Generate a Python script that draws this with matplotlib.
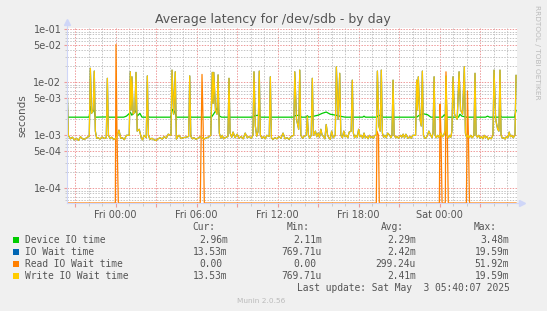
import numpy as np
import matplotlib.pyplot as plt
from matplotlib.patches import Rectangle

# hours relative to Fri 00:00, values in seconds
write_pts = [
    (-3.60, 1.10e-2), (-3.50, 1.00e-3), (-3.35, 8.6e-4), (-3.20, 9.2e-4), (-3.05, 8.2e-4),
    (-2.90, 8.8e-4), (-2.75, 8.0e-4), (-2.60, 9.4e-4), (-2.45, 8.6e-4), (-2.30, 8.4e-4),
    (-2.15, 9.0e-4), (-1.95, 9.6e-4), (-1.87, 1.84e-2), (-1.78, 2.6e-3), (-1.66, 3.0e-3),
    (-1.58, 1.63e-2), (-1.50, 1.2e-3), (-1.40, 8.8e-4), (-1.30, 9.0e-4), (-1.15, 8.5e-4),
    (-1.00, 9.3e-4), (-0.85, 8.7e-4), (-0.69, 9.0e-4), (-0.61, 1.19e-2), (-0.53, 1.0e-3),
    (-0.40, 8.6e-4), (-0.30, 9.2e-4), (-0.15, 8.4e-4), (0.00, 8.6e-4), (0.12, 9.6e-4),
    (0.25, 1.25e-3), (0.38, 8.8e-4), (0.50, 9.0e-4), (0.65, 8.3e-4), (0.80, 1.0e-3),
    (1.01, 1.0e-3), (1.09, 1.58e-2), (1.15, 3.0e-3), (1.21, 1.27e-2), (1.30, 2.5e-3),
    (1.43, 2.8e-3), (1.51, 1.54e-2), (1.60, 1.2e-3), (1.75, 1.3e-3), (1.90, 9.0e-4),
    (2.00, 8.2e-4), (2.10, 1.0e-3), (2.27, 9.0e-4), (2.35, 1.32e-2), (2.43, 1.0e-3),
    (2.55, 8.4e-4), (2.70, 8.8e-4), (2.85, 8.2e-4), (3.00, 8.0e-4), (3.15, 8.6e-4),
    (3.30, 9.0e-4), (3.45, 8.5e-4), (3.60, 9.5e-4), (3.75, 8.8e-4), (3.90, 1.05e-3),
    (4.10, 1.0e-3), (4.18, 1.70e-2), (4.30, 2.5e-3), (4.42, 1.58e-2), (4.50, 8.5e-4),
    (4.60, 9.4e-4), (4.70, 1.0e-3), (4.85, 8.7e-4), (5.00, 9.0e-4), (5.20, 9.2e-4),
    (5.41, 9.5e-4), (5.49, 1.32e-2), (5.57, 9.5e-4), (5.70, 8.6e-4), (5.80, 9.0e-4),
    (5.95, 8.4e-4), (6.10, 8.8e-4), (6.25, 9.4e-4), (6.40, 9.0e-4), (6.55, 8.5e-4),
    (6.70, 8.9e-4), (6.90, 9.3e-4), (7.05, 1.0e-3), (7.16, 1.54e-2), (7.22, 4.0e-3),
    (7.27, 1.54e-2), (7.40, 3.0e-3), (7.51, 2.5e-3), (7.59, 1.38e-2), (7.68, 1.1e-3),
    (7.80, 8.8e-4), (7.90, 1.0e-3), (8.00, 8.6e-4), (8.10, 9.0e-4), (8.32, 9.5e-4),
    (8.40, 1.19e-2), (8.48, 1.1e-3), (8.60, 9.2e-4), (8.70, 1.15e-3), (8.85, 9.0e-4),
    (9.00, 1.05e-3), (9.15, 8.8e-4), (9.30, 9.5e-4), (9.45, 8.6e-4), (9.60, 1.1e-3),
    (9.75, 9.0e-4), (9.90, 9.5e-4), (10.05, 8.8e-4), (10.17, 1.0e-3), (10.25, 1.58e-2),
    (10.35, 1.5e-3), (10.45, 9.6e-4), (10.56, 1.2e-3), (10.64, 1.63e-2), (10.72, 1.0e-3),
    (10.85, 8.8e-4), (10.95, 9.5e-4), (11.08, 8.6e-4), (11.20, 1.0e-3), (11.38, 9.5e-4),
    (11.46, 1.27e-2), (11.54, 9.0e-4), (11.65, 8.4e-4), (11.80, 9.0e-4), (11.95, 8.6e-4),
    (12.10, 9.5e-4), (12.25, 8.8e-4), (12.40, 1.1e-3), (12.55, 8.6e-4), (12.70, 9.0e-4),
    (12.85, 8.4e-4), (13.00, 9.5e-4), (13.19, 1.0e-3), (13.27, 1.58e-2), (13.40, 2.0e-3),
    (13.56, 1.3e-3), (13.64, 1.70e-2), (13.72, 1.0e-3), (13.85, 8.8e-4), (13.95, 9.5e-4),
    (14.12, 1.0e-3), (14.20, 2.3e-3), (14.28, 1.0e-3), (14.38, 8.8e-4), (14.49, 1.0e-3),
    (14.57, 1.19e-2), (14.65, 1.0e-3), (14.80, 1.2e-3), (14.90, 9.4e-4), (15.00, 1.1e-3),
    (15.10, 9.2e-4), (15.20, 1.3e-3), (15.30, 1.0e-3), (15.40, 9.5e-4), (15.50, 8.6e-4),
    (15.60, 1.6e-3), (15.70, 1.0e-3), (15.80, 9.0e-4), (15.90, 8.4e-4), (16.00, 1.2e-3),
    (16.12, 9.0e-4), (16.27, 1.0e-3), (16.35, 1.96e-2), (16.48, 2.0e-3), (16.60, 1.48e-2),
    (16.68, 1.0e-3), (16.80, 9.0e-4), (16.90, 1.2e-3), (17.00, 9.4e-4), (17.10, 1.0e-3),
    (17.20, 9.0e-4), (17.30, 1.15e-3), (17.45, 1.2e-3), (17.53, 1.10e-2), (17.61, 1.1e-3),
    (17.70, 9.0e-4), (17.80, 1.0e-3), (17.90, 9.2e-4), (18.00, 1.3e-3), (18.10, 9.4e-4),
    (18.20, 1.0e-3), (18.30, 8.8e-4), (18.40, 1.1e-3), (18.50, 9.0e-4), (18.60, 9.5e-4),
    (18.70, 8.6e-4), (18.80, 1.0e-3), (18.90, 9.0e-4), (19.00, 9.5e-4), (19.10, 8.8e-4),
    (19.20, 1.0e-3), (19.31, 1.0e-3), (19.39, 1.63e-2), (19.50, 1.5e-3), (19.60, 1.2e-3),
    (19.68, 1.70e-2), (19.76, 1.1e-3), (19.85, 9.2e-4), (19.95, 1.0e-3), (20.05, 9.0e-4),
    (20.15, 1.1e-3), (20.30, 1.0e-3), (20.40, 9.0e-4), (20.47, 1.0e-3), (20.55, 1.10e-2),
    (20.63, 1.0e-3), (20.75, 9.0e-4), (20.85, 9.5e-4), (20.95, 8.8e-4), (21.10, 1.0e-3),
    (21.20, 9.2e-4), (21.30, 1.05e-3), (21.40, 9.0e-4), (21.50, 1.05e-3), (21.65, 8.8e-4),
    (21.80, 9.5e-4), (21.90, 8.8e-4), (22.00, 1.0e-3), (22.22, 1.0e-3), (22.30, 1.10e-2),
    (22.36, 3.0e-3), (22.42, 1.27e-2), (22.55, 2.0e-3), (22.64, 1.5e-3), (22.72, 1.63e-2),
    (22.80, 1.0e-3), (22.90, 8.8e-4), (23.00, 9.0e-4), (23.10, 1.0e-3), (23.20, 1.2e-3),
    (23.35, 1.0e-3), (23.43, 9.0e-4), (23.51, 1.1e-3), (23.59, 1.27e-2), (23.67, 1.0e-3),
    (23.75, 9.0e-4), (23.85, 1.0e-3), (23.95, 9.2e-4), (24.10, 1.1e-3), (24.20, 9.4e-4),
    (24.30, 1.0e-3), (24.40, 1.2e-3), (24.47, 1.30e-2), (24.55, 1.0e-3), (24.65, 9.0e-4),
    (24.75, 1.0e-3), (24.83, 9.2e-4), (24.91, 1.2e-3), (24.99, 1.27e-2), (25.10, 2.5e-3),
    (25.30, 2.0e-3), (25.44, 1.58e-2), (25.55, 3.0e-3), (25.70, 2.5e-3), (25.83, 1.97e-2),
    (25.91, 1.1e-3), (26.00, 9.2e-4), (26.10, 1.0e-3), (26.20, 9.0e-4), (26.30, 1.0e-3),
    (26.42, 9.0e-4), (26.54, 1.0e-3), (26.62, 1.48e-2), (26.70, 1.0e-3), (26.80, 9.2e-4),
    (26.90, 1.0e-3), (27.00, 8.8e-4), (27.10, 9.5e-4), (27.20, 8.6e-4), (27.30, 1.0e-3),
    (27.40, 9.0e-4), (27.50, 9.5e-4), (27.60, 8.4e-4), (27.70, 9.0e-4), (27.82, 8.6e-4),
    (27.95, 1.0e-3), (28.03, 1.70e-2), (28.15, 2.0e-3), (28.30, 1.3e-3), (28.39, 1.2e-3),
    (28.47, 1.70e-2), (28.55, 1.0e-3), (28.65, 8.8e-4), (28.75, 9.0e-4), (28.85, 8.5e-4),
    (28.95, 9.5e-4), (29.05, 9.0e-4), (29.15, 1.15e-3), (29.25, 9.4e-4), (29.35, 1.0e-3),
    (29.45, 9.0e-4), (29.58, 1.0e-3), (29.66, 1.35e-2),
]

device_pts = [
    (-3.60, 2.20e-3), (-2.00, 2.20e-3), (-1.95, 2.30e-3), (-1.87, 3.50e-3), (-1.75, 2.80e-3),
    (-1.60, 3.00e-3), (-1.50, 2.20e-3), (-0.70, 2.22e-3), (-0.60, 2.35e-3), (-0.50, 2.20e-3),
    (0.60, 2.20e-3), (0.80, 2.30e-3), (1.10, 2.70e-3), (1.20, 2.40e-3), (1.50, 2.90e-3),
    (1.60, 2.30e-3), (1.80, 2.60e-3), (1.95, 2.20e-3), (2.30, 2.20e-3), (2.40, 2.28e-3),
    (2.50, 2.20e-3), (4.10, 2.20e-3), (4.20, 3.10e-3), (4.40, 2.70e-3), (4.50, 2.20e-3),
    (5.40, 2.20e-3), (5.50, 2.30e-3), (5.60, 2.20e-3), (7.10, 2.20e-3), (7.25, 2.50e-3),
    (7.55, 3.30e-3), (7.70, 2.30e-3), (7.85, 2.20e-3), (10.20, 2.20e-3), (10.30, 2.35e-3),
    (10.65, 2.40e-3), (10.75, 2.20e-3), (13.20, 2.20e-3), (13.30, 2.35e-3), (13.65, 2.40e-3),
    (13.75, 2.20e-3), (14.10, 2.20e-3), (14.20, 2.35e-3), (14.30, 2.20e-3), (14.70, 2.30e-3),
    (15.00, 2.40e-3), (15.30, 2.60e-3), (15.60, 2.75e-3), (15.90, 2.50e-3), (16.30, 2.40e-3),
    (16.60, 2.30e-3), (17.00, 2.20e-3), (18.30, 2.20e-3), (18.40, 2.30e-3), (18.50, 2.20e-3),
    (19.35, 2.20e-3), (19.45, 2.35e-3), (19.70, 2.40e-3), (19.80, 2.20e-3), (22.30, 2.20e-3),
    (22.50, 2.40e-3), (22.80, 2.55e-3), (23.10, 2.45e-3), (23.35, 2.20e-3), (24.20, 2.20e-3),
    (24.35, 2.45e-3), (24.50, 2.20e-3), (25.40, 2.20e-3), (25.50, 2.50e-3), (25.65, 2.30e-3),
    (26.00, 2.20e-3), (27.40, 2.20e-3), (27.55, 2.30e-3), (27.70, 2.20e-3), (28.40, 2.20e-3),
    (28.50, 2.35e-3), (28.60, 2.20e-3), (29.55, 2.20e-3), (29.66, 2.96e-3),
]

read_pts = [
    (-3.60, 0.0), (-0.02, 0.0), (0.03, 5.19e-2), (0.10, 1.2e-3), (0.20, 0.0),
    (6.27, 0.0), (6.40, 1.41e-2), (6.50, 1.0e-3), (6.57, 0.0),
    (19.31, 0.0), (19.36, 1.2e-3), (19.47, 1.0e-3), (19.53, 0.0),
    (23.98, 0.0), (24.03, 3.9e-3), (24.10, 1.0e-3), (24.18, 0.0),
    (24.42, 0.0), (24.47, 1.58e-2), (24.57, 1.0e-3), (24.64, 0.0),
    (25.98, 0.0), (26.06, 6.9e-3), (26.13, 1.0e-3), (26.21, 0.0),
    (29.66, 0.0),
]

series_names = ['Device IO time', 'IO Wait time', 'Read IO Wait time', 'Write IO Wait time']
series_colors = ['#00CC00', '#0066B3', '#FF8000', '#FFCC00']
cur_vals = ['2.96m', '13.53m', '0.00', '13.53m']
min_vals = ['2.11m', '769.71u', '0.00', '769.71u']
avg_vals = ['2.29m', '2.42m', '299.24u', '2.41m']
max_vals = ['3.48m', '19.59m', '51.92m', '19.59m']

x_ticks = [0, 6, 12, 18, 24]
x_labels = ['Fri 00:00', 'Fri 06:00', 'Fri 12:00', 'Fri 18:00', 'Sat 00:00']
y_ticks = [1e-1, 5e-2, 1e-2, 5e-3, 1e-3, 5e-4, 1e-4]
y_labels = ['1e-01', '5e-02', '1e-02', '5e-03', '1e-03', '5e-04', '1e-04']

W, H = 547, 311
YMIN, YMAX = 5.28e-5, 0.106
fig = plt.figure(figsize=(W / 100, H / 100), dpi=100, facecolor='#F0F0F0')
ax = fig.add_axes([67 / W, 1 - 203 / H, 450 / W, 175 / H])
ax.set_facecolor('white')

wh, wv = np.array(write_pts).T
dh, dv = np.array(device_pts).T
rh, rv = np.array(read_pts).T
rv_plot = np.where(rv > 0, rv, YMIN)  # zeros sit on the floor, as rrdtool draws them

ax.plot(dh, dv, color=series_colors[0], lw=0.9)
ax.plot(wh, wv, color=series_colors[1], lw=0.9)
ax.plot(rh, rv_plot, color=series_colors[2], lw=0.9)
ax.plot(wh, wv, color=series_colors[3], lw=0.9)

ax.set_yscale('log')
ax.set_xlim(-3.6, 29.73)
ax.set_ylim(YMIN, YMAX)

# grid
major_x = np.arange(-3, 30, 3)
ax.set_xticks(major_x)
ax.set_xticklabels([x_labels[x_ticks.index(t)] if t in x_ticks else '' for t in major_x])
ax.set_xticks(np.arange(-3, 30, 1), minor=True)
ax.set_yticks(y_ticks)
ax.set_yticklabels(y_labels)
minor_y = [m * 10.0 ** e for e in range(-5, 0) for m in (2, 3, 4, 6, 7, 8, 9)]
ax.set_yticks([v for v in minor_y if YMIN < v < YMAX], minor=True)
ax.yaxis.set_minor_formatter(plt.NullFormatter())
ax.set_axisbelow(True)
ax.grid(which='minor', color='#C4C4C4', lw=0.72, linestyle=(0, (1.4, 1.4)))
ax.grid(which='major', color='#EE9A9A', lw=0.72, linestyle=(0, (1.4, 1.4)))

ax.tick_params(which='both', labelsize=7, labelcolor='#555555', pad=2)
ax.tick_params(axis='x', which='major', length=3, color='#EE9A9A')
ax.tick_params(axis='x', which='minor', length=2, color='#C4C4C4')
ax.tick_params(axis='y', which='major', length=2, color='#EE9A9A')
ax.tick_params(axis='y', which='minor', length=1.5, color='#C4C4C4')

for s in ['top', 'right']:
    ax.spines[s].set_visible(False)
for s in ['left', 'bottom']:
    ax.spines[s].set_color('#CFD6F8')
    ax.spines[s].set_linewidth(0.8)
ax.plot([0, 0], [1, 1.03], color='#CFD6F8', lw=0.8, transform=ax.transAxes, clip_on=False)
ax.plot([1, 1.01], [0, 0], color='#CFD6F8', lw=0.8, transform=ax.transAxes, clip_on=False)
ax.plot([0], [1.035], marker='^', ms=4, color='#CFD6F8', transform=ax.transAxes, clip_on=False)
ax.plot([1.012], [0], marker='>', ms=4, color='#CFD6F8', transform=ax.transAxes, clip_on=False)

ax.set_ylabel('seconds', fontsize=7.5, color='#555555', labelpad=4)

fig.text(273 / W, 1 - 20 / H, 'Average latency for /dev/sdb - by day',
         ha='center', va='center', fontsize=9, color='#555555')
fig.text(537 / W, 1 - 52 / H, 'RRDTOOL / TOBI OETIKER', rotation=270,
         ha='center', va='center', fontsize=5.3, color='#BBBBBB')

# legend block
mono = 'DejaVu Sans Mono'
fs = 6.9
txt_col = '#555555'
def fy(y):
    return 1 - y / H

for x, lab in zip([215, 310, 404, 497], ['Cur:', 'Min:', 'Avg:', 'Max:']):
    fig.text(x / W, fy(227.5), lab, ha='right', va='center', family=mono, fontsize=fs, color=txt_col)

col_right = [227.7, 322, 416, 509.3]
for i, name in enumerate(series_names):
    y = 240 + 12 * i
    fig.patches.append(Rectangle((13 / W, fy(y + 3)), 6 / W, 6 / H, transform=fig.transFigure,
                                 facecolor=series_colors[i], edgecolor='none'))
    fig.text(25 / W, fy(y), name, ha='left', va='center', family=mono, fontsize=fs, color=txt_col)
    for xr, vals in zip(col_right, [cur_vals, min_vals, avg_vals, max_vals]):
        v = vals[i]
        xx = xr - 5.7 if v[-1].isdigit() else xr
        fig.text(xx / W, fy(y), v, ha='right', va='center', family=mono, fontsize=fs, color=txt_col)

fig.text(509.3 / W, fy(288), 'Last update: Sat May  3 05:40:07 2025', ha='right', va='center',
         family=mono, fontsize=fs, color=txt_col)
fig.text(261 / W, fy(301), 'Munin 2.0.56', ha='center', va='center', fontsize=5.3, color='#BBBBBB')

fig.savefig('out.png', dpi=100, facecolor=fig.get_facecolor())
